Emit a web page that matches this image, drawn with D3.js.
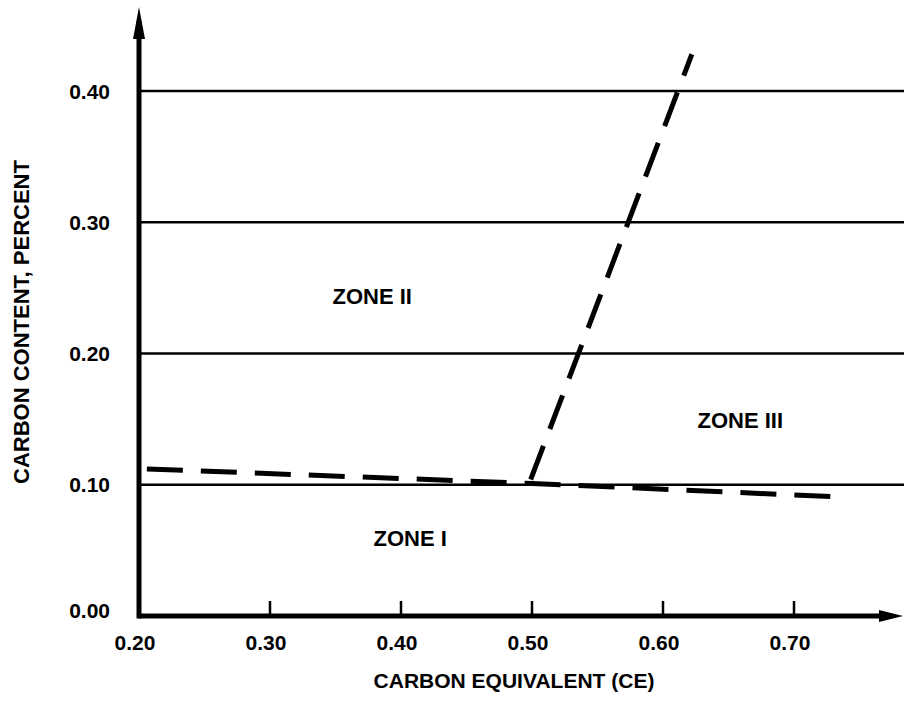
<!DOCTYPE html>
<html lang="en">
<head>
    <meta charset="UTF-8">
    <title>Carbon Equivalent Zones</title>
    <script src="https://cdn.jsdelivr.net/npm/d3@7"></script>
    <style>
        body { margin: 0; background: #fff; }
        text { font-family: "Liberation Sans", Arial, sans-serif; font-weight: bold; fill: #000; }
    </style>
</head>
<body>

<script>

    // chart values
    const xTicks = [0.20, 0.30, 0.40, 0.50, 0.60, 0.70];
    const yTicks = [0.00, 0.10, 0.20, 0.30, 0.40];
    const flatBoundary = [[0.206, 0.112], [0.50, 0.101], [0.728, 0.091]];
    const steepBoundary = [[0.499, 0.104], [0.622, 0.428]];
    const zoneNames = ["ZONE I", "ZONE II", "ZONE III"];
    const zoneCE = [0.407, 0.378, 0.659];
    const zoneCarbon = [0.053, 0.238, 0.143];

    const width = 904;
    const height = 711;

    const x = d3.scaleLinear().domain([0.2, 0.7]).range([139, 794]);
    const y = d3.scaleLinear().domain([0, 0.4]).range([616, 91]);

    const svg = d3.select("body").append("svg")
        .attr("width", width)
        .attr("height", height);

    // horizontal grid lines
    svg.append("g")
        .selectAll("line")
        .data(yTicks.filter(d => d > 0))
        .join("line")
        .attr("x1", x(0.2))
        .attr("x2", width)
        .attr("y1", d => y(d))
        .attr("y2", d => y(d))
        .attr("stroke", "#000")
        .attr("stroke-width", 2.5);

    // y tick labels
    svg.append("g")
        .attr("font-size", 21)
        .attr("text-anchor", "end")
        .selectAll("text")
        .data(yTicks)
        .join("text")
        .attr("x", 110)
        .attr("y", d => y(d))
        .attr("dy", d => d === 0 ? "0.1em" : "0.36em")
        .text(d => d.toFixed(2));

    // x ticks (small upward marks)
    svg.append("g")
        .selectAll("line")
        .data(xTicks.filter(d => d > 0.2))
        .join("line")
        .attr("x1", d => x(d))
        .attr("x2", d => x(d))
        .attr("y1", y(0))
        .attr("y2", y(0) - 15)
        .attr("stroke", "#000")
        .attr("stroke-width", 2.5);

    svg.append("g")
        .attr("font-size", 21)
        .attr("text-anchor", "middle")
        .selectAll("text")
        .data(xTicks)
        .join("text")
        .attr("x", d => x(d) - 4)
        .attr("y", 650)
        .text(d => d.toFixed(2));

    // axes with arrows
    const axisEndX = width - 1;
    const axisTopY = 7;

    svg.append("line")
        .attr("x1", x(0.2)).attr("x2", axisEndX - 14)
        .attr("y1", y(0)).attr("y2", y(0))
        .attr("stroke", "#000").attr("stroke-width", 5);
    svg.append("path")
        .attr("d", `M${axisEndX},${y(0)} L${axisEndX - 24},${y(0) - 6} L${axisEndX - 24},${y(0) + 6} Z`)
        .attr("fill", "#000");

    svg.append("line")
        .attr("x1", x(0.2)).attr("x2", x(0.2))
        .attr("y1", y(0) + 2.5).attr("y2", axisTopY + 14)
        .attr("stroke", "#000").attr("stroke-width", 5);
    svg.append("path")
        .attr("d", `M${x(0.2)},${axisTopY} L${x(0.2) - 6},${axisTopY + 32} L${x(0.2) + 6},${axisTopY + 32} Z`)
        .attr("fill", "#000");

    // dashed zone boundaries
    const line = d3.line()
        .x(d => x(d[0]))
        .y(d => y(d[1]));

    svg.append("g")
        .selectAll("path")
        .data([flatBoundary, steepBoundary])
        .join("path")
        .attr("d", line)
        .attr("fill", "none")
        .attr("stroke", "#000")
        .attr("stroke-width", 5)
        .attr("stroke-dasharray", "36,18");

    // zone labels
    svg.append("g")
        .attr("font-size", 22)
        .attr("text-anchor", "middle")
        .selectAll("text")
        .data(zoneNames)
        .join("text")
        .attr("x", (d, i) => x(zoneCE[i]))
        .attr("y", (d, i) => y(zoneCarbon[i]))
        .text(d => d);

    // axis titles
    svg.append("text")
        .attr("font-size", 21)
        .attr("text-anchor", "middle")
        .attr("x", 514)
        .attr("y", 688)
        .text("CARBON EQUIVALENT (CE)");

    svg.append("text")
        .attr("font-size", 22)
        .attr("text-anchor", "middle")
        .attr("transform", "translate(29, 322) rotate(-90)")
        .text("CARBON CONTENT, PERCENT");

</script>

</body>
</html>
